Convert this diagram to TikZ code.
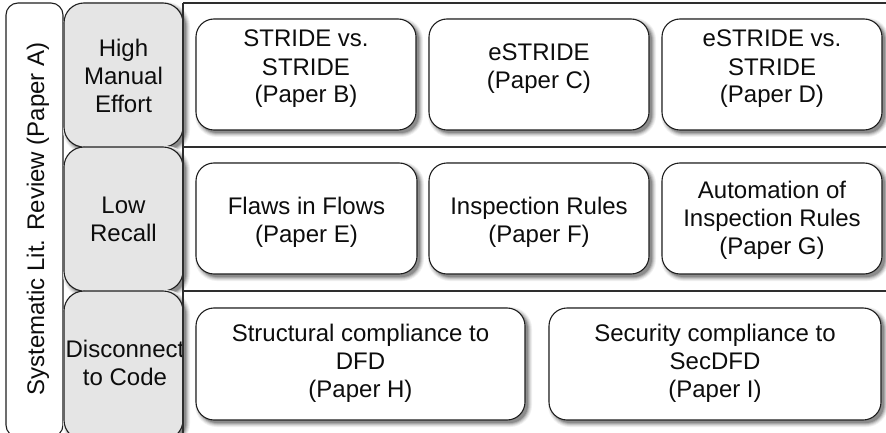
\documentclass[tikz,border=0pt]{standalone}
\usepackage{fontspec}
\setmainfont{Liberation Sans}

% soft drop shadow for a rounded box: centre (#1,#2), size #3 x #4, corner radius #5;
% nested plates, widest and palest first, offset to the lower right
\newcommand\shadeplate[5]{%
  \foreach \d/\c in {4/6,3/13,2/22,1/33,0/45}{%
    \fill[black!\c, rounded corners={#5pt+\d pt}]
      ({#1-#3/2+3-\d},{#2-#4/2+3-\d}) rectangle
      ({#1+#3/2+3+\d},{#2+#4/2+3+\d});
  }}

\begin{document}
\begin{tikzpicture}[x=1pt,y=-1pt,
  every node/.style={inner sep=0pt, outer sep=0pt},
  gridline/.style={draw=black!82, line width=1.4pt},
  paperbox/.style={draw=black!88, line width=1.1pt, fill=white, rounded corners=18pt},
  issuebox/.style={draw=black!88, line width=1.1pt, fill=black!10,
      rounded corners=20pt, minimum width=119pt, minimum height=144pt},
  reviewbox/.style={draw=black!88, line width=1.1pt, fill=white, rounded corners=12pt},
  txt/.style={font=\fontsize{24}{28}\selectfont, align=center, text=black!95, anchor=base}
]
% canvas
\fill[white] (0,0) rectangle (886,433);
\useasboundingbox (0,0) rectangle (886,433);

% left column: the literature review
\node[reviewbox, minimum width=57pt, minimum height=434pt] (review) at (34.5,220) {};
\node[txt, rotate=90] (reviewtxt) at (44,219) {Systematic Lit. Review (Paper A)};

% problem column (text nodes are placed by the baseline of their last line)
\shadeplate{123.5}{75}{119}{144}{20}
\node[issuebox] (effort) at (123.5,75) {};
\shadeplate{123.5}{219}{119}{144}{20}
\node[issuebox] (recall) at (123.5,219) {};
\shadeplate{123.5}{365.5}{119}{149}{20}
\node[issuebox, minimum height=149pt] (disc) at (123.5,365.5) {};
\node[txt] (efforttxt) at (effort.center |- 0,113) {High\\Manual\\Effort};
\node[txt] (recalltxt) at (recall.center |- 0,241) {Low\\Recall};
\node[txt] (disctxt) at (125,385) {Disconnect\\to Code};

% row frames
\draw[gridline] (183,3) -- (886,3);
\draw[gridline] (183,147) -- (886,147);
\draw[gridline] (183,291) -- (886,291);
\draw[gridline] (183,3) -- (183,433);

% row 1
\shadeplate{306}{74.5}{220}{111}{18}
\shadeplate{539}{74.5}{220}{111}{18}
\shadeplate{772}{74.5}{220}{111}{18}
\node[paperbox, minimum width=220pt, minimum height=111pt] (pb) at (306,74.5) {};
\node[paperbox, minimum width=220pt, minimum height=111pt] (pc) at (539,74.5) {};
\node[paperbox, minimum width=220pt, minimum height=111pt] (pd) at (772,74.5) {};
\node[txt] (pbtxt) at (pb.center |- 0,103) {STRIDE vs.\\STRIDE\\(Paper B)};
\node[txt] (pctxt) at (pc.center |- 0,89) {eSTRIDE\\(Paper C)};
\node[txt] (pdtxt) at (pd.center |- 0,103) {eSTRIDE vs.\\STRIDE\\(Paper D)};

% row 2
\shadeplate{306.5}{218.5}{221}{111}{18}
\shadeplate{539}{218.5}{220}{111}{18}
\shadeplate{772}{218.5}{220}{111}{18}
\node[paperbox, minimum width=221pt, minimum height=111pt] (pe) at (306.5,218.5) {};
\node[paperbox, minimum width=220pt, minimum height=111pt] (pf) at (539,218.5) {};
\node[paperbox, minimum width=220pt, minimum height=111pt] (pg) at (772,218.5) {};
\node[txt] (petxt) at (pe.center |- 0,242) {Flaws in Flows\\(Paper E)};
\node[txt] (pftxt) at (pf.center |- 0,242) {Inspection Rules\\(Paper F)};
\node[txt] (pgtxt) at (pg.center |- 0,254) {Automation of\\Inspection Rules\\(Paper G)};

% row 3
\shadeplate{360.5}{364}{329}{112}{18}
\shadeplate{715}{364}{332}{112}{18}
\node[paperbox, minimum width=329pt, minimum height=112pt] (ph) at (360.5,364) {};
\node[paperbox, minimum width=332pt, minimum height=112pt] (pi) at (715,364) {};
\node[txt] (phtxt) at (ph.center |- 0,397) {Structural compliance to\\DFD\\(Paper H)};
\node[txt] (pitxt) at (pi.center |- 0,397) {Security compliance to\\SecDFD\\(Paper I)};
\end{tikzpicture}
\end{document}
